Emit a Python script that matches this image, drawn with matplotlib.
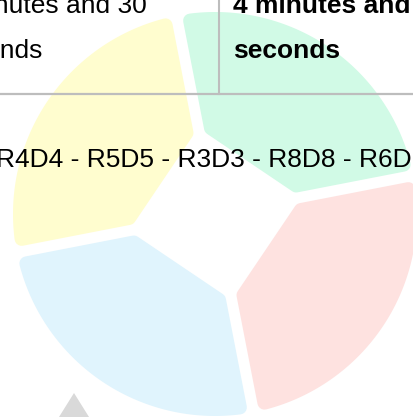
"""
Faded doughnut behind a quiz answer table.
"""

import numpy as np
import matplotlib

matplotlib.use("Agg")
import matplotlib.pyplot as plt
from matplotlib.patches import Polygon

W, H = 414, 417

# four equal slices, drawn clockwise starting at the green one
slice_labels = ["Q1", "Q2", "Q3", "Q4"]
slice_values = [1, 1, 1, 1]
slice_colors = ["#d1fae6", "#fee2e0", "#e0f4fd", "#fffdcf"]

# table cells (one given answer, one correct answer) and the sequence row
given_answer = ["4 minutes and 30", "seconds"]
correct_answer = ["4 minutes and 30", "seconds"]
sequence_row = "R4D4 - R5D5 - R3D3 - R8D8 - R6D6"

# doughnut geometry in pixels
cx, cy, R = 215, H - 214, 202
gap = 11
hole = 62
corner = 7

FONT = "Liberation Sans"
FS = 19  # ~26 px at dpi 100


def slice_outline(t1, t2):
    # shrink the slice by the corner radius; the round stroke grows it back
    h = gap / 2 + corner
    d = hole + corner
    r = R - corner
    tm = (t1 + t2) / 2
    u = np.array([np.cos(tm), np.sin(tm)])
    e1 = np.array([np.cos(t1), np.sin(t1)])
    e2 = np.array([np.cos(t2), np.sin(t2)])
    n1 = np.array([-np.sin(t1), np.cos(t1)])
    n2 = np.array([np.sin(t2), -np.cos(t2)])
    p_in1 = np.linalg.solve(np.array([u, n1]), [d, h])
    p_in2 = np.linalg.solve(np.array([u, n2]), [d, h])
    s = np.sqrt(r ** 2 - h ** 2)
    p_out1 = s * e1 + h * n1
    p_out2 = s * e2 + h * n2
    a1 = np.arctan2(p_out1[1], p_out1[0])
    a2 = np.arctan2(p_out2[1], p_out2[0])
    a2 = a1 + (a2 - a1) % (2 * np.pi)
    arc = np.linspace(a1, a2, 80)
    pts = [p_in1] + list(r * np.c_[np.cos(arc), np.sin(arc)]) + [p_in2]
    return np.array(pts) + [cx, cy]


fig = plt.figure(figsize=(W / 100, H / 100), dpi=100)
ax = fig.add_axes([0, 0, 1, 1])

wedges, _ = ax.pie(
    slice_values,
    colors=slice_colors,
    startangle=101,
    counterclock=False,
    radius=R,
    center=(cx, cy),
)

for w, col in zip(wedges, slice_colors):
    pts = slice_outline(np.radians(w.theta1), np.radians(w.theta2))
    w.remove()
    ax.add_patch(
        Polygon(pts, closed=True, facecolor=col, edgecolor=col,
                linewidth=2 * corner * 0.72, joinstyle="round", zorder=1)
    )

# grey caret at the bottom left
ax.add_patch(Polygon([(74, H - 393), (49, H - 433), (99, H - 433)],
                     closed=True, facecolor="#d9d9d9", edgecolor="none", zorder=1))

# table rules
ax.plot([219, 219], [H - 94, H + 5], color="#bdbdbd", linewidth=1.5, zorder=3)
ax.plot([-5, W + 5], [H - 94, H - 94], color="#bdbdbd", linewidth=1.6, zorder=3)

# table text
for i, line in enumerate(given_answer):
    ax.text(-56, H - 13 - 45 * i, line, fontsize=FS, family=FONT,
            color="black", va="baseline", ha="left", zorder=4)
for i, line in enumerate(correct_answer):
    ax.text(233, H - 13 - 45 * i, line, fontsize=FS, family=FONT,
            fontweight="bold", color="black", va="baseline", ha="left", zorder=4)

ax.text(-4, H - 167, sequence_row, fontsize=FS, family=FONT,
        color="black", va="baseline", ha="left", zorder=4)

ax.set_xlim(0, W)
ax.set_ylim(0, H)
ax.axis("off")

fig.savefig("out.png", dpi=100)
